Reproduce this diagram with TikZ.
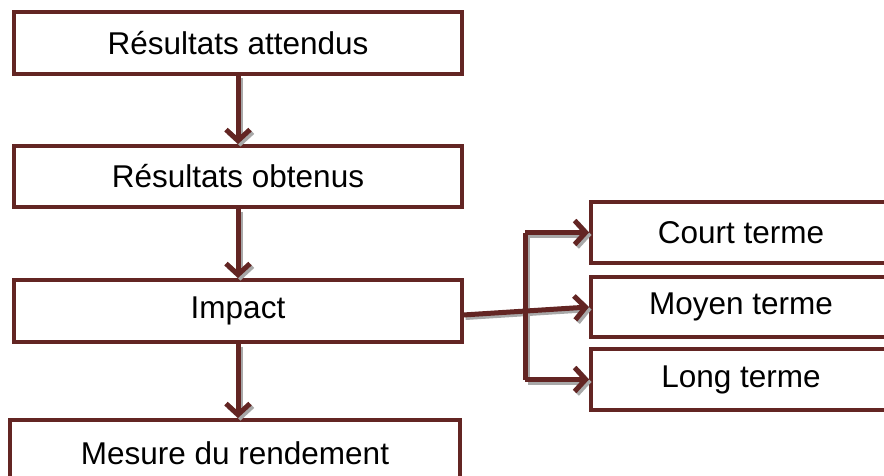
\documentclass[tikz,border=0pt]{standalone}
\usepackage{fontspec}
\setmainfont{Liberation Sans}
\usetikzlibrary{arrows.meta}
\definecolor{brn}{HTML}{632523}
\definecolor{shd}{HTML}{A8A8A8}
\begin{document}
\begin{tikzpicture}[x=1pt,y=-1pt,
  box/.style={draw=brn,line width=4pt,fill=white,rectangle,inner sep=0pt,font=\fontsize{31.5}{36}\selectfont},
  conn/.style={draw=brn,line width=5pt,-{Straight Barb[length=11pt,width=24pt]}},
  plain/.style={draw=brn,line width=5pt},
  shadowc/.style={draw=shd,line width=5pt,-{Straight Barb[length=11pt,width=24pt]},transform canvas={shift={(2.5pt,-2.5pt)}}},
  shadowp/.style={draw=shd,line width=5pt,transform canvas={shift={(2.5pt,-2.5pt)}}}]
\useasboundingbox (0,0) rectangle (884,476);
\clip (0,0) rectangle (884,476);
\fill[white] (0,0) rectangle (884,476);
\node[box,minimum width=448pt,minimum height=62pt] (a) at (238,43) {Résultats attendus};
\node[box,minimum width=448pt,minimum height=61pt] (b) at (238,176.5) {Résultats obtenus};
\node[box,minimum width=448pt,minimum height=62pt] (c) at (238,311) {Impact};
\node[box,minimum width=450pt,minimum height=66pt] (d) at (235,453) {Mesure du rendement};
\node[box,minimum width=300pt,minimum height=61pt] (e) at (741,232.5) {Court terme};
\node[box,minimum width=300pt,minimum height=60pt] (f) at (741,307) {Moyen terme};
\node[box,minimum width=300pt,minimum height=61pt] (g) at (741,379.5) {Long terme};
\coordinate (bt) at (525,232.5);
\coordinate (bb) at (525,379.5);
\coordinate (cs) at (463,315);
% shadows
\draw[shadowc] (a.south) -- (b.north);
\draw[shadowc] (b.south) -- (c.north);
\draw[shadowc] (c.south) -- (c.south |- d.north);
\draw[shadowp] (bt) -- (bb);
\draw[shadowc] (bt) -- (e.west);
\draw[shadowc] (bb) -- (g.west);
\draw[shadowc] (cs) -- (f.west);
% connectors
\draw[conn] (a.south) -- (b.north);
\draw[conn] (b.south) -- (c.north);
\draw[conn] (c.south) -- (c.south |- d.north);
\draw[plain] (bt) -- (bb);
\draw[conn] (bt) -- (e.west);
\draw[conn] (bb) -- (g.west);
\draw[conn] (cs) -- (f.west);
\end{tikzpicture}
\end{document}
